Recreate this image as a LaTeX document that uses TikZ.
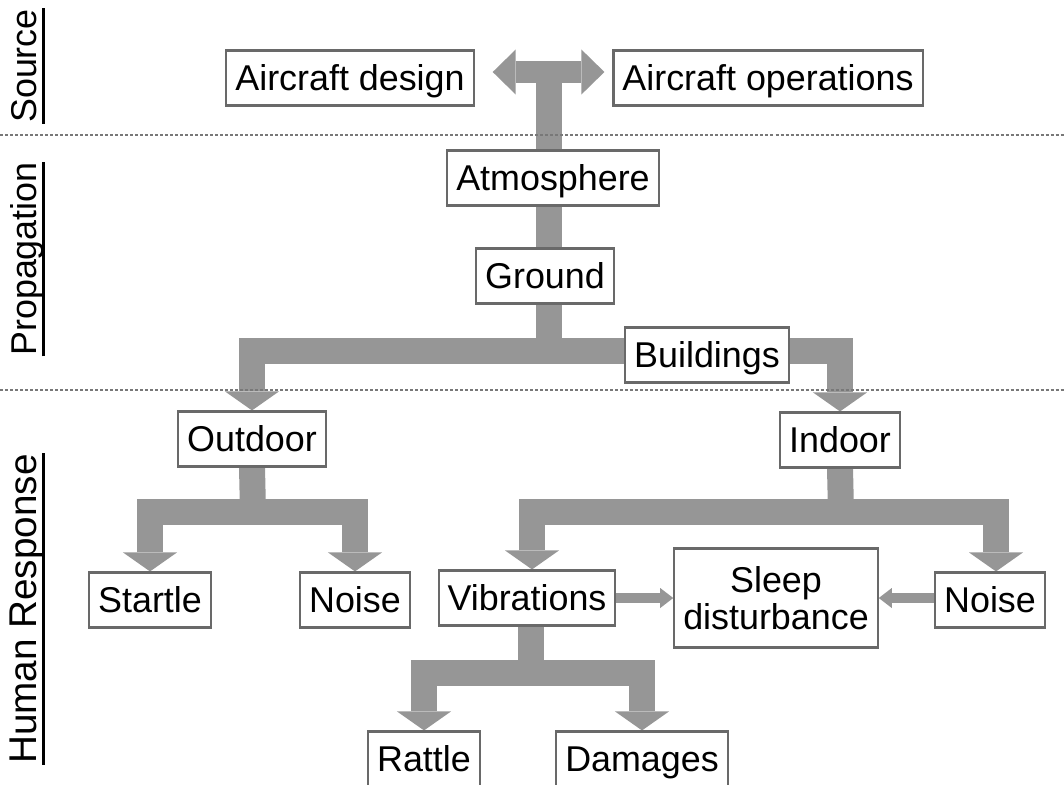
\documentclass[tikz,border=0pt]{standalone}
\usepackage{fontspec}
\setmainfont{Liberation Sans}
\usetikzlibrary{arrows.meta, backgrounds}
\definecolor{flowgray}{RGB}{150,150,150}
\definecolor{boxline}{RGB}{105,105,105}
\definecolor{sepline}{RGB}{120,120,120}
\newcommand{\boxfont}{\fontsize{10.2}{9.4}\selectfont}

\begin{document}
\begin{tikzpicture}[
    x=0.01cm, y=-0.01cm,
    boxbase/.style={draw=boxline, line width=0.6pt, fill=white, font=\boxfont, inner xsep=0.09cm, inner ysep=0pt, minimum height=0.55cm},
    box/.style={boxbase, text height=0.257cm, text depth=0pt},
    stage/.style={rotate=90, font=\boxfont, inner sep=0pt, text height=0.257cm, text depth=0.06cm},
    fat/.style={draw=flowgray, line width=0.26cm},
    fatboth/.style={fat, {Triangle[width=0.54cm,length=0.19cm,line width=0pt]}-{Triangle[width=0.54cm,length=0.19cm,line width=0pt]}},
    topboth/.style={draw=flowgray, line width=0.21cm, {Triangle[width=0.45cm,length=0.23cm,line width=0pt]}-{Triangle[width=0.45cm,length=0.23cm,line width=0pt]}},
    slim/.style={draw=flowgray, line width=0.1cm, -{Triangle[width=0.2cm,length=0.13cm,line width=0pt]}},
    divider/.style={draw=sepline, line width=0.6pt, dash pattern=on 0.03cm off 0.02cm}
]
\useasboundingbox (0,0) rectangle (1064,784);

% stage labels
\node[stage] (src) at (27,66) {Source};
\node[stage] (prop) at (27,259) {Propagation};
\node[stage, font=\fontsize{11}{12}\selectfont, text height=0.277cm] (human) at (26,609) {Human Response};
\foreach \s in {src, prop, human}
  \draw[line width=0.8pt] (\s.south west) -- (\s.south east);

% source
\node[box] (design) at (350,78) {Aircraft design};
\node[box] (oper) at (768,78) {Aircraft operations};

% propagation
\node[box] (atmos) at (553,178) {Atmosphere};
\node[box] (ground) at (545,276) {Ground};
\node[box] (build) at (707,355) {Buildings};

% human response
\node[box] (outdoor) at (252,439) {Outdoor};
\node[box] (indoor) at (840,440) {Indoor};
\node[box] (startle) at (150,600) {Startle};
\node[box] (noiseout) at (355,600) {Noise};
\node[box] (vibr) at (527,598) {Vibrations};
\node[boxbase, align=center, minimum height=0.99cm] (sleep) at (776,598) {Sleep\\disturbance};
\node[box] (noisein) at (990,600) {Noise};
\node[box] (rattle) at (424,759) {Rattle};
\node[box] (damages) at (642,759) {Damages};

% forks
\coordinate (hub) at (549,72);
\coordinate (fork) at (549,351);
\coordinate (ofork) at (253,512);
\coordinate (ifork) at (841,512);
\coordinate (vfork) at (531,673);

\begin{scope}[on background layer]
\draw[topboth] ([xshift=0.18cm,yshift=0.06cm]design.east) -- ([xshift=-0.08cm,yshift=0.06cm]oper.west);
\draw[fat] (hub) -- (fork);
\draw[fatboth] (outdoor.north) |- (fork) -| (indoor.north);

\draw[fat] (outdoor.south) -- (ofork);
\draw[fatboth] (startle.north) |- (ofork) -| (noiseout.north);

\draw[fat] (indoor.south) -- (ifork);
\draw[fatboth] ([xshift=0.05cm]vibr.north) |- (ifork) -| ([xshift=0.06cm]noisein.north);

\draw[fat] (vfork |- vibr.south) -- (vfork);
\draw[fatboth] (rattle.north) |- (vfork) -| (damages.north);
\end{scope}

\draw[slim] (vibr.east) -- (sleep.west);
\draw[slim] (noisein.west |- sleep) -- (sleep.east);

% dividers
\draw[divider] (0,135) -- (1064,135);
\draw[divider] (0,390) -- (1064,390);

\end{tikzpicture}
\end{document}
